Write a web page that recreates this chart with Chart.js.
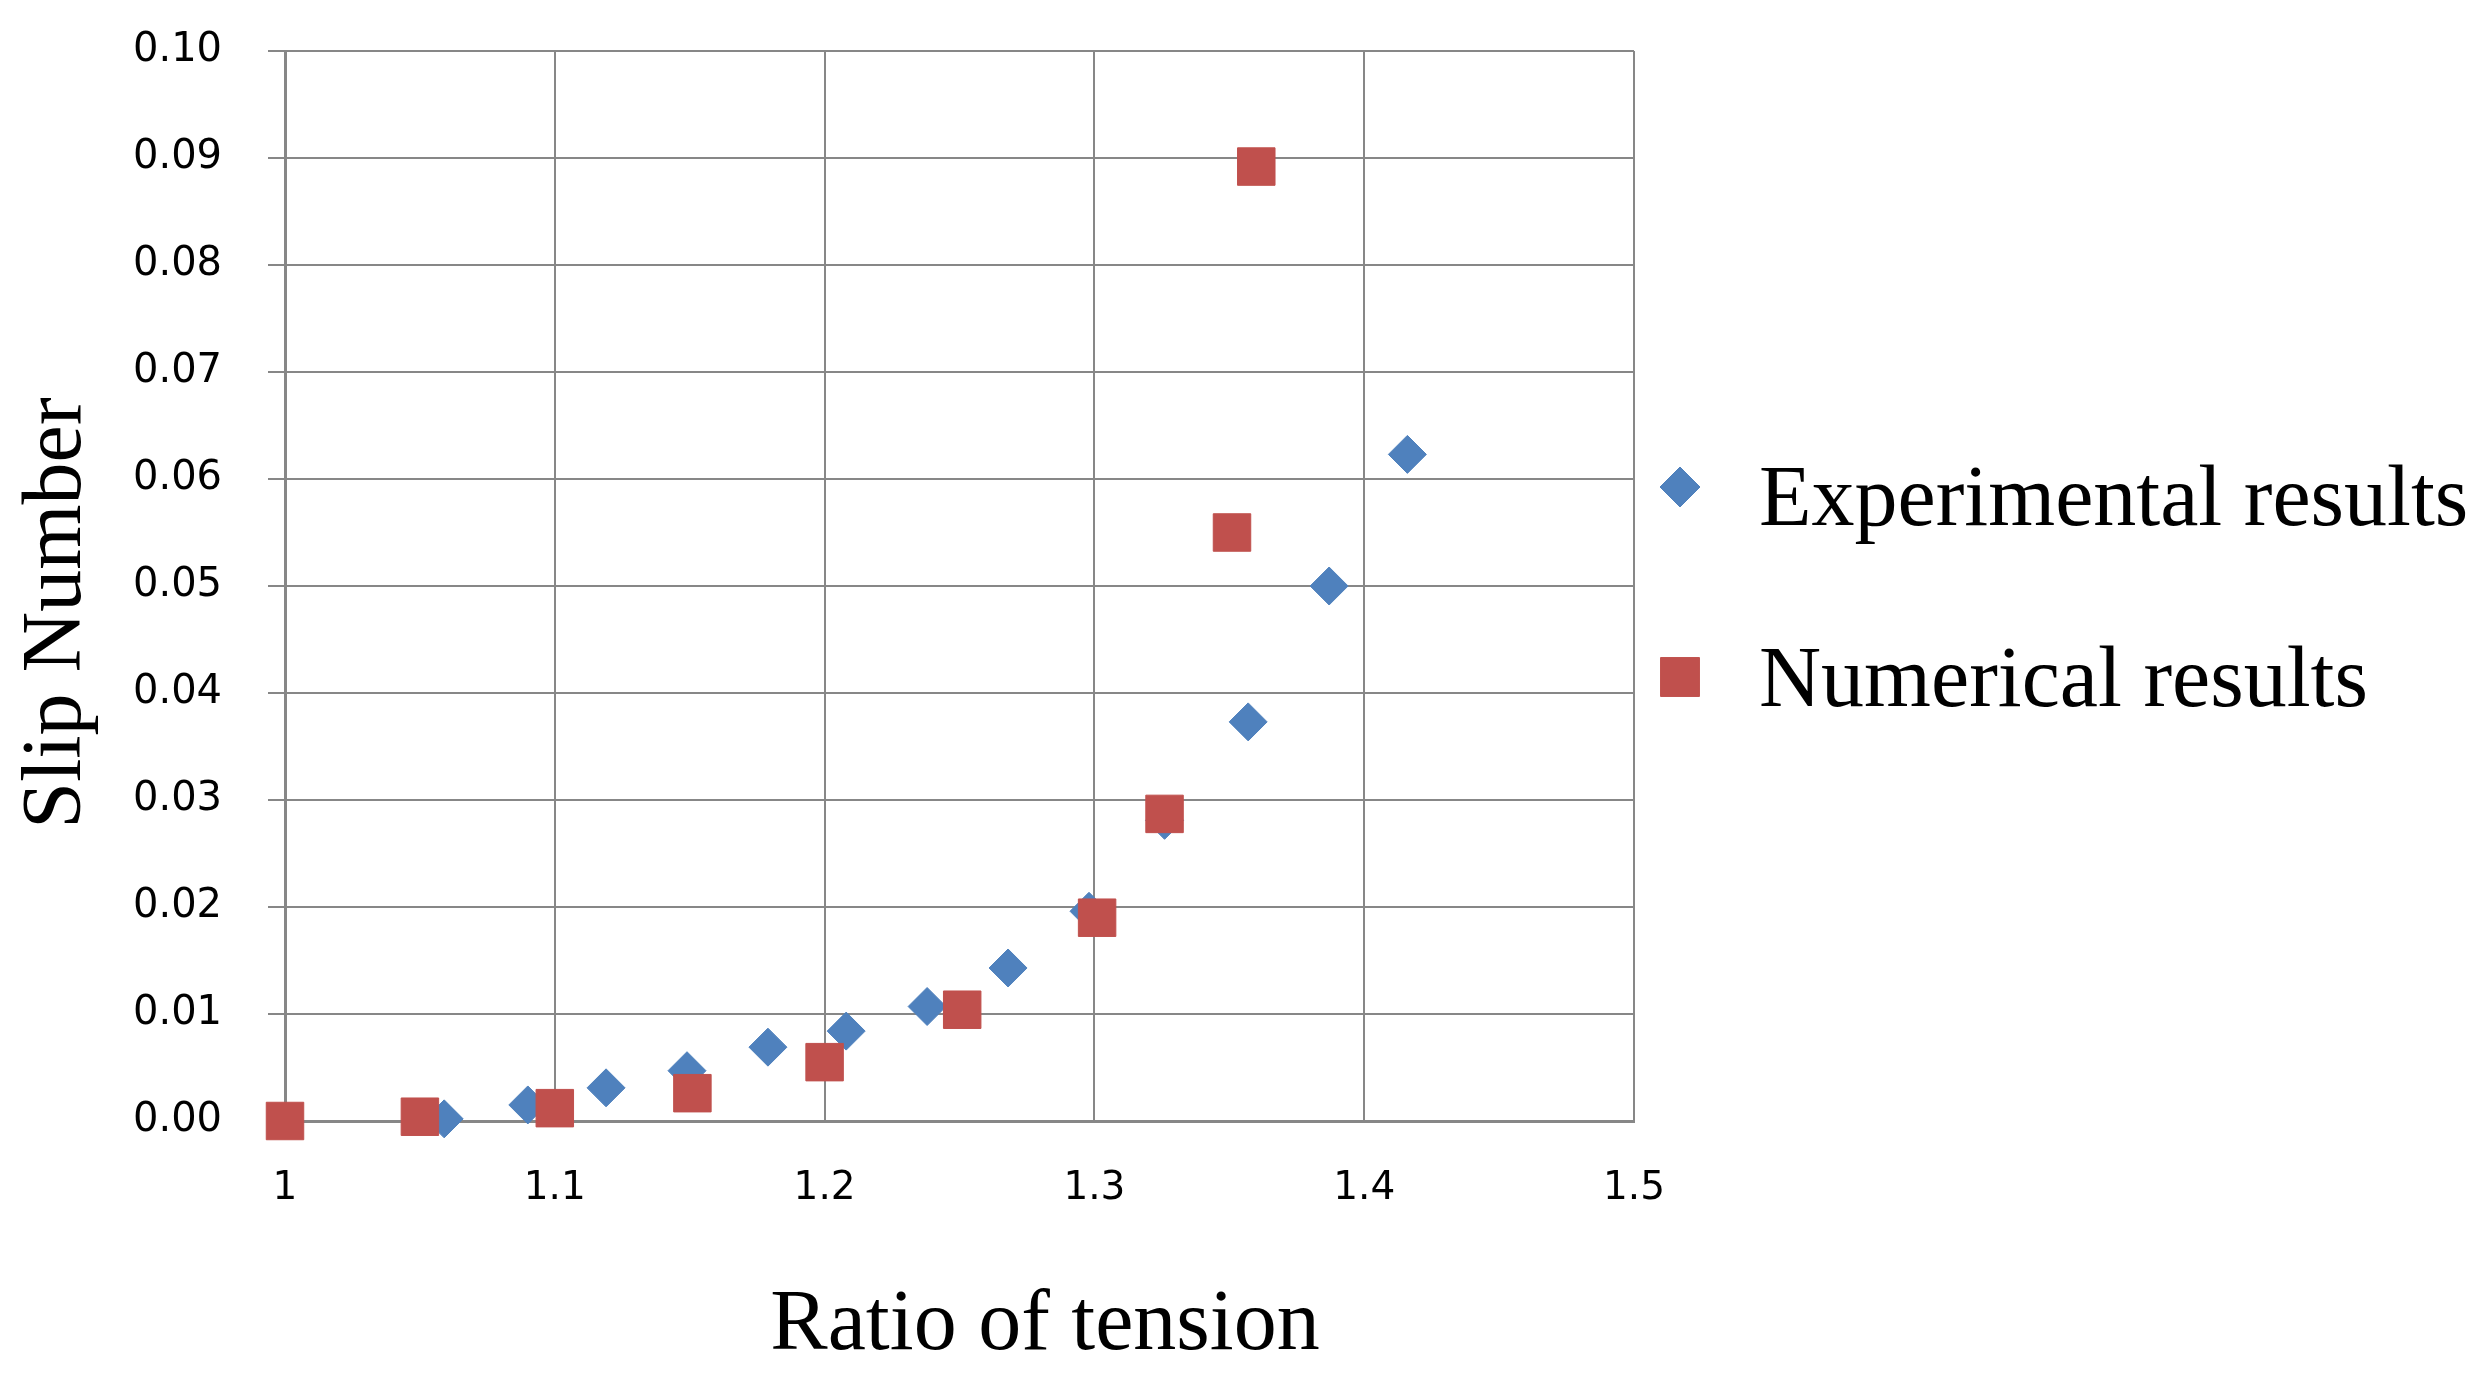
<!DOCTYPE html>
<html>
<head>
<meta charset="utf-8">
<title>Slip Number vs Ratio of tension</title>
<script src="https://cdn.jsdelivr.net/npm/chart.js@4.4.1/dist/chart.umd.min.js"></script>
<style>
  html, body { margin: 0; padding: 0; background: #fff; }
  canvas { display: block; }
</style>
</head>
<body>
<canvas id="slipChart" width="2483" height="1386"></canvas>
<script>
// Experimental results (blue diamonds)
const expRatio = [1.059, 1.090, 1.119, 1.149, 1.179, 1.208, 1.238, 1.268, 1.298, 1.326, 1.357, 1.387, 1.416];
const expSlip  = [0.0002, 0.0015, 0.0031, 0.0047, 0.0069, 0.0084, 0.0107, 0.0143, 0.0196, 0.0281, 0.0373, 0.0500, 0.0623];

// Numerical results (red squares)
const numRatio = [1.000, 1.050, 1.100, 1.151, 1.200, 1.251, 1.301, 1.326, 1.351, 1.360];
const numSlip  = [0.0000, 0.0004, 0.0012, 0.0026, 0.0055, 0.0104, 0.0190, 0.0287, 0.0550, 0.0892];

const seriesLabels = ['Experimental results', 'Numerical results'];
const xTickValues = [1, 1.1, 1.2, 1.3, 1.4, 1.5];
const xTickLabels = ['1', '1.1', '1.2', '1.3', '1.4', '1.5'];
const yTickValues = [0, 0.01, 0.02, 0.03, 0.04, 0.05, 0.06, 0.07, 0.08, 0.09, 0.10];
const yTickLabels = ['0.00', '0.01', '0.02', '0.03', '0.04', '0.05', '0.06', '0.07', '0.08', '0.09', '0.10'];
const xTitle = 'Ratio of tension';
const yTitle = 'Slip Number';

const gridGray = '#878787';

// Excel-like axis titles and legend drawn straight onto the canvas
const excelDecorations = {
    id: 'excelDecorations',
    afterDraw(chart, args, opts) {
        const ctx = chart.ctx;
        ctx.save();
        ctx.fillStyle = '#000';
        ctx.textBaseline = 'alphabetic';

        // axis titles
        ctx.font = `${opts.xTitleSize}px "Liberation Serif"`;
        ctx.textAlign = 'center';
        ctx.fillText(xTitle, opts.xTitleX, opts.xTitleY);

        ctx.save();
        ctx.font = `${opts.yTitleSize}px "Liberation Serif"`;
        ctx.translate(opts.yTitleX, opts.yTitleY);
        ctx.rotate(-Math.PI / 2);
        ctx.fillText(yTitle, 0, 0);
        ctx.restore();

        // legend
        ctx.font = `${opts.legendSize}px "Liberation Serif"`;
        ctx.textAlign = 'left';
        chart.data.datasets.forEach((ds, i) => {
            const row = opts.legendRows[i];
            ctx.fillStyle = ds.backgroundColor;
            ctx.strokeStyle = ds.borderColor;
            ctx.lineWidth = 1;
            Chart.helpers.drawPoint(ctx, {
                pointStyle: ds.pointStyle,
                radius: ds.legendRadius,
                rotation: 0,
                borderWidth: 1
            }, opts.legendMarkerX, row.marker);
            ctx.fillStyle = '#000';
            ctx.fillText(ds.label, opts.legendTextX, row.baseline);
        });
        ctx.restore();
    }
};

Chart.defaults.font.family = '"DejaVu Sans", Verdana, sans-serif';
Chart.defaults.color = '#000';

const ctx = document.getElementById('slipChart').getContext('2d');
new Chart(ctx, {
    type: 'scatter',
    data: {
        datasets: [{
            label: seriesLabels[0],
            data: expRatio.map((x, i) => ({ x: x, y: expSlip[i] })),
            pointStyle: 'rectRot',
            pointRadius: 19,
            legendRadius: 20,
            backgroundColor: '#4F81BD',
            borderColor: '#4F81BD',
            borderWidth: 1,
            clip: false,
            order: 1
        }, {
            label: seriesLabels[1],
            data: numRatio.map((x, i) => ({ x: x, y: numSlip[i] })),
            pointStyle: 'rect',
            pointRadius: 26.5,
            legendRadius: 27.5,
            backgroundColor: '#C0504D',
            borderColor: '#C0504D',
            borderWidth: 1,
            clip: false,
            order: 0
        }]
    },
    options: {
        responsive: false,
        animation: false,
        devicePixelRatio: 1,
        layout: {
            padding: { top: 51, right: 849, bottom: 0, left: 133 }
        },
        plugins: {
            legend: { display: false },
            tooltip: { enabled: false },
            excelDecorations: {
                xTitleSize: 86, xTitleX: 1045, xTitleY: 1349,
                yTitleSize: 84, yTitleX: 80, yTitleY: 613,
                legendSize: 86, legendMarkerX: 1680, legendTextX: 1759,
                legendRows: [{ marker: 487, baseline: 525 }, { marker: 677, baseline: 706 }]
            }
        },
        scales: {
            x: {
                type: 'linear',
                min: 1,
                max: 1.5,
                afterBuildTicks: scale => {
                    scale.ticks = xTickValues.map(v => ({ value: v }));
                },
                afterFit: scale => { scale.height = 265; },
                ticks: {
                    font: { size: 39 },
                    padding: 44,
                    maxRotation: 0,
                    callback: (value, index) => xTickLabels[index]
                },
                grid: { color: gridGray, lineWidth: 2, drawTicks: false },
                border: { color: gridGray, width: 3 }
            },
            y: {
                type: 'linear',
                min: 0,
                max: 0.1,
                afterBuildTicks: scale => {
                    scale.ticks = yTickValues.map(v => ({ value: v }));
                },
                afterFit: scale => { scale.width = 152; },
                ticks: {
                    font: { size: 40 },
                    padding: 0,
                    crossAlign: 'far',
                    callback: (value, index) => yTickLabels[index]
                },
                grid: { color: gridGray, lineWidth: 2, drawTicks: true, tickLength: 17 },
                border: { color: gridGray, width: 3 }
            }
        }
    },
    plugins: [excelDecorations]
});
</script>
</body>
</html>
